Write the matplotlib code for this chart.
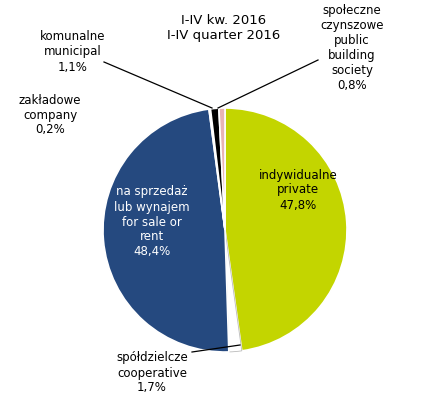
import matplotlib
matplotlib.use("Agg")
import matplotlib.pyplot as plt

labels = ["indywidualne\nprivate", "spółdzielcze\ncooperative", "na sprzedaż\nlub wynajem\nfor sale or\nrent",
          "zakładowe\ncompany", "komunalne\nmunicipal", "społeczne\nczynszowe\npublic\nbuilding\nsociety"]
values = [47.8, 1.7, 48.4, 0.2, 1.1, 0.8]
colors = ["#c3d500", "#ffffff", "#25497f", "#9fb7d6", "#000000", "#e8b4b4"]

fig = plt.figure(figsize=(4.46, 4.07), dpi=100)
ax = fig.add_axes([0, 0, 1, 1])
fs = 8.5
# y axis is inverted below, so counterclock=True with startangle=-90 appears clockwise from the top
wedges, _ = ax.pie(values, colors=colors, startangle=-90, counterclock=True,
                   center=(225, 230), radius=122,
                   wedgeprops=dict(edgecolor="white", linewidth=1.2))
wedges[1].set_edgecolor("#bbbbbb"); wedges[1].set_linewidth(0.6)
ax.set_xlim(0, 446); ax.set_ylim(407, 0); ax.set_aspect("equal"); ax.axis("off")

def pct(v):
    return f"{v:.1f}%".replace(".", ",")

ax.text(224, 28, "I-IV kw. 2016\nI-IV quarter 2016", ha="center", va="center", fontsize=9.5, linespacing=1.2)
ax.text(298, 190, labels[0] + "\n" + pct(values[0]), ha="center", va="center", fontsize=fs, linespacing=1.2)
ax.text(152, 222, labels[2] + "\n" + pct(values[2]), ha="center", va="center", fontsize=fs, color="white", linespacing=1.2)
ax.text(152, 373, labels[1] + "\n" + pct(values[1]), ha="center", va="center", fontsize=fs, linespacing=1.2)
ax.text(50, 115, labels[3] + "\n" + pct(values[3]), ha="center", va="center", fontsize=fs, linespacing=1.2)
ax.text(73, 52, labels[4] + "\n" + pct(values[4]), ha="center", va="center", fontsize=fs, linespacing=1.2)
ax.text(352, 48, labels[5] + "\n" + pct(values[5]), ha="center", va="center", fontsize=fs, linespacing=1.2)
ax.plot([104, 212], [62, 108], color="black", lw=0.9)
ax.plot([318, 218], [60, 108], color="black", lw=0.9)
ax.plot([192, 240], [352, 345], color="black", lw=0.9)
fig.savefig("out.png", dpi=100)
